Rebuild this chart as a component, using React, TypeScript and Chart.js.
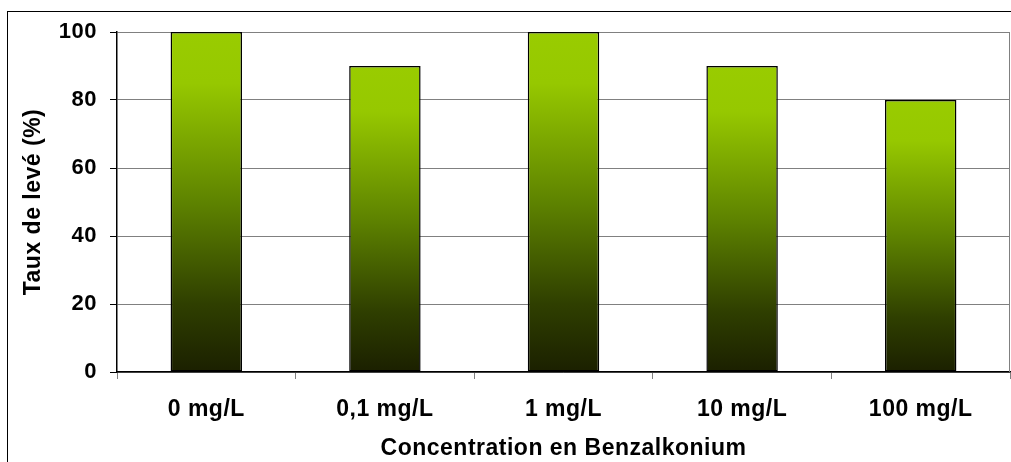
import React, { useEffect, useRef } from "react";
import { Chart, registerables } from "chart.js";

Chart.register(...registerables);

const categories = ["0 mg/L", "0,1 mg/L", "1 mg/L", "10 mg/L", "100 mg/L"];
const tauxDeLeve = [100, 90, 100, 90, 80];
const yTicks = [0, 20, 40, 60, 80, 100];
const xTitle = "Concentration en Benzalkonium";
const yTitle = "Taux de levé (%)";

const FONT = "'Liberation Sans', Arial, sans-serif";
const SPACING = "0.5px";

const spacingPlugin = {
  id: "spacing",
  beforeUpdate(chart: any) {
    chart.ctx.letterSpacing = SPACING;
  },
  beforeLayout(chart: any) {
    chart.ctx.letterSpacing = SPACING;
  },
  beforeDraw(chart: any) {
    chart.ctx.letterSpacing = SPACING;
  },
};

const framePlugin = {
  id: "frame",
  beforeDraw(chart: any) {
    const { ctx } = chart;
    ctx.save();
    ctx.fillStyle = "#ffffff";
    ctx.fillRect(0, 0, chart.width, chart.height);
    ctx.strokeStyle = "#000000";
    ctx.lineWidth = 1;
    ctx.strokeRect(7.5, 11.5, chart.width + 50, chart.height + 50);
    ctx.restore();
  },
  afterDraw(chart: any) {
    const { ctx, chartArea } = chart;
    ctx.save();
    ctx.strokeStyle = "#808080";
    ctx.lineWidth = 1;
    ctx.beginPath();
    ctx.moveTo(chartArea.right - 0.5, chartArea.top);
    ctx.lineTo(chartArea.right - 0.5, chartArea.bottom);
    ctx.stroke();
    ctx.restore();
  },
};

export default function App() {
  const ref = useRef<HTMLCanvasElement>(null);
  useEffect(() => {
    if (!ref.current) return;
    const chart = new Chart(ref.current, {
      type: "bar",
      data: {
        labels: categories,
        datasets: [
          {
            data: tauxDeLeve,
            backgroundColor: (c: any) => {
              const ch = c.chart;
              const area = ch.chartArea;
              if (!area || c.raw === undefined) return "#99cc00";
              const y = ch.scales.y;
              const top = y.getPixelForValue(c.raw);
              const bottom = y.getPixelForValue(0);
              const g = ch.ctx.createLinearGradient(0, top, 0, bottom);
              g.addColorStop(0, "#99cc00");
              g.addColorStop(0.15, "#96c800");
              g.addColorStop(0.5, "#5e8300");
              g.addColorStop(0.8, "#2f3f00");
              g.addColorStop(1, "#1b2000");
              return g;
            },
            borderColor: "#000000",
            borderWidth: 1.5,
            borderSkipped: false,
            barPercentage: 0.4,
            categoryPercentage: 1,
          },
        ],
      },
      options: {
        animation: false,
        responsive: false,
        maintainAspectRatio: false,
        layout: { padding: { left: 0, top: 32, right: 1, bottom: 0 } },
        plugins: { legend: { display: false }, tooltip: { enabled: false } },
        scales: {
          x: {
            offset: true,
            grid: {
              drawOnChartArea: false,
              offset: true,
              tickLength: 7,
              tickColor: "#808080",
            },
            border: { color: "#000000", width: 1.5 },
            ticks: {
              color: "#000000",
              font: { family: FONT, size: 23, weight: "bold" },
              padding: 17,
              maxRotation: 0,
            },
            title: {
              display: true,
              text: xTitle,
              color: "#000000",
              font: { family: FONT, size: 23, weight: "bold" },
              padding: { top: 4, bottom: 0 },
            },
            afterFit: (s: any) => {
              s.height = 90;
            },
          },
          y: {
            min: 0,
            max: 100,
            afterBuildTicks: (s: any) => {
              s.ticks = yTicks.map((v) => ({ value: v }));
            },
            grid: {
              color: "#808080",
              tickLength: 7,
              tickColor: "#000000",
              lineWidth: 1,
            },
            border: { color: "#000000", width: 1.5 },
            ticks: {
              color: "#000000",
              font: { family: FONT, size: 22, weight: "bold" },
              padding: 13,
            },
            title: {
              display: true,
              text: yTitle,
              color: "#000000",
              font: { family: FONT, size: 23, weight: "bold" },
              padding: { top: 20, bottom: 0 },
            },
            afterFit: (s: any) => {
              s.width = 117;
            },
          },
        },
      },
      plugins: [spacingPlugin, framePlugin],
    });
    return () => chart.destroy();
  }, []);
  return (
    <div style={{ position: "fixed", left: 0, top: 0, width: 1011, height: 462 }}>
      <canvas ref={ref} width={1011} height={462} style={{ width: 1011, height: 462, display: "block" }} />
    </div>
  );
}
